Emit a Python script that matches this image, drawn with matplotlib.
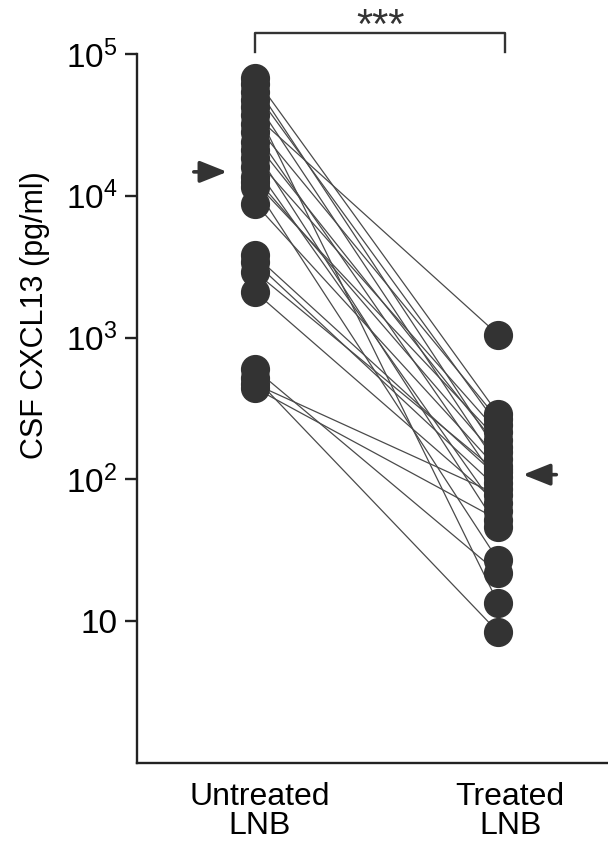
import numpy as np
import matplotlib
matplotlib.use("Agg")
import matplotlib.pyplot as plt

plt.rcParams['font.family'] = ['Liberation Sans', 'DejaVu Sans']
plt.rcParams['mathtext.fontset'] = 'custom'
plt.rcParams['mathtext.rm'] = 'Liberation Sans'

# CSF CXCL13 (pg/ml), one value per patient, same order in both lists
untreated = [68000, 61000, 54000, 47000, 42000, 37000, 32000, 28000, 24000, 21000, 18500, 16000,
             13500, 12500, 11500, 8800, 3800, 3400, 2900, 2100, 600, 520, 470, 440]
treated = [290, 155, 240, 125, 13.5, 1050, 265, 95, 170, 46, 215, 60,
           140, 190, 27, 118, 104, 86, 112, 68, 22, 8.4, 78, 52]
groups = ["Untreated\nLNB", "Treated\nLNB"]
yticks = [10, 1e2, 1e3, 1e4, 1e5]
yticklabels = ["10", r"$\mathregular{10^2}$", r"$\mathregular{10^3}$",
               r"$\mathregular{10^4}$", r"$\mathregular{10^5}$"]
signif = "***"

dark = "#333333"

fig = plt.figure(figsize=(6.08, 8.47), dpi=100)
ax = fig.add_axes([137/608, 84/847, 1 - 137/608, 709/847])

# paired lines first, then the dots on top
for u, t in zip(untreated, treated):
    ax.plot([0, 1], [u, t], color="#4a4a4a", lw=0.9, zorder=1)
ax.plot(np.zeros(len(untreated)), untreated, "o", ms=20, color=dark, mec=dark, zorder=2)
ax.plot(np.ones(len(treated)), treated, "o", ms=20, color=dark, mec=dark, zorder=2)

# median arrows
med_u = np.median(untreated)
med_t = np.median(treated)
arrow = dict(arrowstyle="-|>,head_length=0.55,head_width=0.22", color=dark, lw=2.6,
             mutation_scale=30, shrinkA=0, shrinkB=0)
ax.annotate("", xy=(-0.115, med_u), xytext=(-24, 0), textcoords="offset points",
            arrowprops=arrow)
ax.annotate("", xy=(1.103, med_t), xytext=(24, 0), textcoords="offset points",
            arrowprops=arrow)

# significance bracket
ax.plot([0, 0, 1.03, 1.03], [1.03e5, 1.4e5, 1.4e5, 1.03e5], color=dark, lw=1.7,
        clip_on=False)
ax.text(0.515, 1.30e5, signif, ha="center", va="baseline", fontsize=30, color=dark)

ax.set_yscale("log")
ax.set_ylim(1, 1e5)
ax.set_xlim(-0.486, 1.453)
ax.set_yticks(yticks, yticklabels)
ax.minorticks_off()
ax.set_xticks([0.02, 1.05], groups)

for s in ["top", "right"]:
    ax.spines[s].set_visible(False)
for s in ["left", "bottom"]:
    ax.spines[s].set_linewidth(1.7)
    ax.spines[s].set_color("#222222")

ax.tick_params(axis="y", length=9, width=1.7, color="#222222", labelsize=24, pad=5)
ax.tick_params(axis="x", length=0, labelsize=23, pad=14)
for lab in ax.get_xticklabels():
    lab.set_linespacing(0.92)

ax.set_ylabel("CSF CXCL13 (pg/ml)", fontsize=22)
ax.yaxis.set_label_coords(-0.185, 0.632)

fig.savefig("out.png", dpi=100)
